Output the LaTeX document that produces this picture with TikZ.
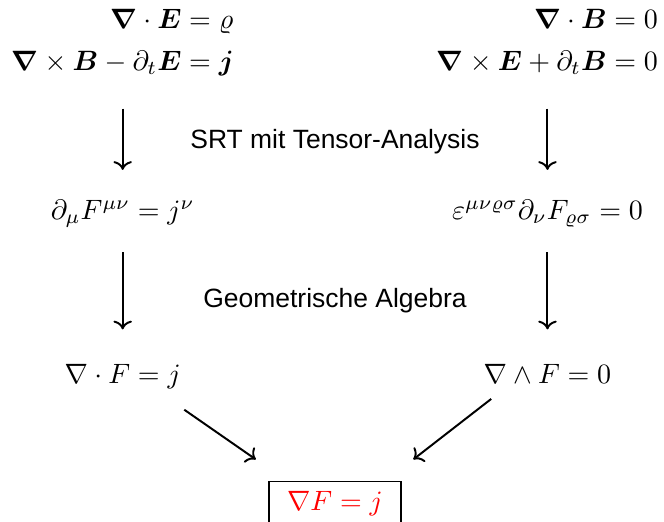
\documentclass[tikz,border=0pt]{standalone}
\usepackage{amsmath}
\usepackage[no-math]{fontspec}
\setsansfont{Liberation Sans}
\usetikzlibrary{positioning,arrows.meta}

\begin{document}
\begin{tikzpicture}[
  eq/.style={anchor=base,inner sep=2pt},
  lab/.style={anchor=base,font=\sffamily\fontsize{9.45pt}{11pt}\selectfont},
  result/.style={draw,line width=0.6pt,anchor=north,minimum width=1.65cm,inner sep=3.33pt,text=red},
  arrow/.style={->,line width=0.7pt}
]
\useasboundingbox (0,0) rectangle (8.335,-6.552);

% Maxwell in Vektorform
\node[eq] (maxl) at (1.54,-0.355) {$\begin{aligned}[t]
  \boldsymbol{\nabla}\cdot\boldsymbol{E} &= \varrho\\
  \boldsymbol{\nabla}\times\boldsymbol{B}-\partial_t\boldsymbol{E} &= \boldsymbol{j}
\end{aligned}$};
\node[eq] (maxr) at (6.872,-0.355) {$\begin{aligned}[t]
  \boldsymbol{\nabla}\cdot\boldsymbol{B} &= 0\\
  \boldsymbol{\nabla}\times\boldsymbol{E}+\partial_t\boldsymbol{B} &= 0
\end{aligned}$};

% Tensorform
\node[eq] (tenl) at (1.54,-2.753) {$\partial_\mu F^{\mu\nu} = j^\nu$};
\node[eq] (tenr) at (6.872,-2.753) {$\varepsilon^{\mu\nu\varrho\sigma}\partial_\nu F_{\varrho\sigma} = 0$};

% Geometrische Algebra
\node[eq] (divl) at (1.54,-4.811) {$\nabla\cdot F = j$};
\node[eq] (divr) at (6.872,-4.811) {$\nabla\wedge F = 0$};
\node[result] (res) at (4.205,-6.034) {$\nabla F = j$};

\node[lab] (srt) at (4.205,-1.866) {SRT mit Tensor-Analysis};
\node[lab] (ga) at (4.205,-3.857) {Geometrische Algebra};

\draw[arrow,shorten <=7.9pt,shorten >=8.5pt] (maxl) -- (tenl);
\draw[arrow,shorten <=7.9pt,shorten >=8.5pt] (maxr) -- (tenr);
\draw[arrow,shorten <=6.7pt,shorten >=10.2pt] (tenl) -- (divl);
\draw[arrow,shorten <=6.7pt,shorten >=10.2pt] (tenr) -- (divr);
\draw[arrow] ([xshift=-0.9pt,yshift=-5.3pt]divl.south east) -- ([xshift=-4.5pt,yshift=7.6pt]res.north west);
\draw[arrow] ([xshift=4.9pt,yshift=-3.4pt]divr.south west) -- ([xshift=4.2pt,yshift=7.6pt]res.north east);
\end{tikzpicture}
\end{document}
